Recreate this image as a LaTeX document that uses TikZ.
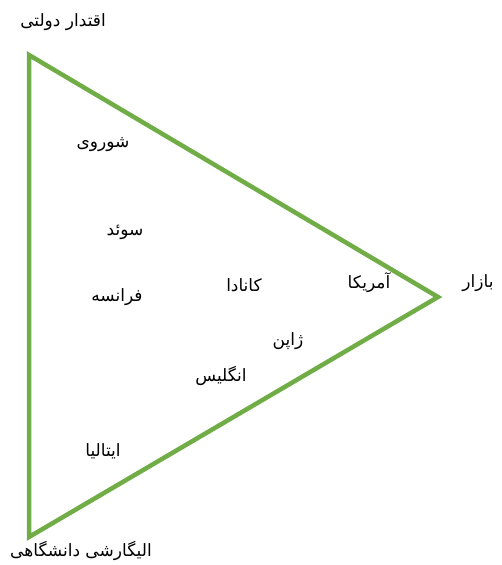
\documentclass[tikz,border=0pt]{standalone}
\usepackage{fontspec}
\TeXXeTstate=1
\newfontfamily\arabicfont[Script=Arabic]{DejaVu Sans}
\definecolor{tgreen}{HTML}{70AD47}
\tikzset{lbl/.style={inner sep=1pt,font=\arabicfont\fontsize{17}{20}\selectfont}}
\newcommand{\fa}[1]{\beginR #1\endR}
\begin{document}
\begin{tikzpicture}[x=1pt,y=-1pt]
\useasboundingbox (0,0) rectangle (501,565);
\coordinate (A) at (29,55);
\coordinate (B) at (438,297);
\coordinate (C) at (29,537);
\draw[tgreen,line width=4.5pt,line join=miter] (A) -- (B) -- (C) -- cycle;
\node[lbl] (top) at (63,22) {\fa{اقتدار دولتی}};
\node[lbl] (bot) at (81,551) {\fa{الیگارشی دانشگاهی}};
\node[lbl] (mkt) at (478,283) {\fa{بازار}};
\node[lbl] (su) at (103,145) {\fa{شوروی}};
\node[lbl] (se) at (125,232) {\fa{سوئد}};
\node[lbl] (fr) at (117,297) {\fa{فرانسه}};
\node[lbl] (ca) at (244,285) {\fa{کانادا}};
\node[lbl] (us) at (369,283) {\fa{آمریکا}};
\node[lbl] (jp) at (288,341) {\fa{ژاپن}};
\node[lbl] (uk) at (221,376) {\fa{انگلیس}};
\node[lbl] (it) at (103,451) {\fa{ایتالیا}};
\end{tikzpicture}
\end{document}
